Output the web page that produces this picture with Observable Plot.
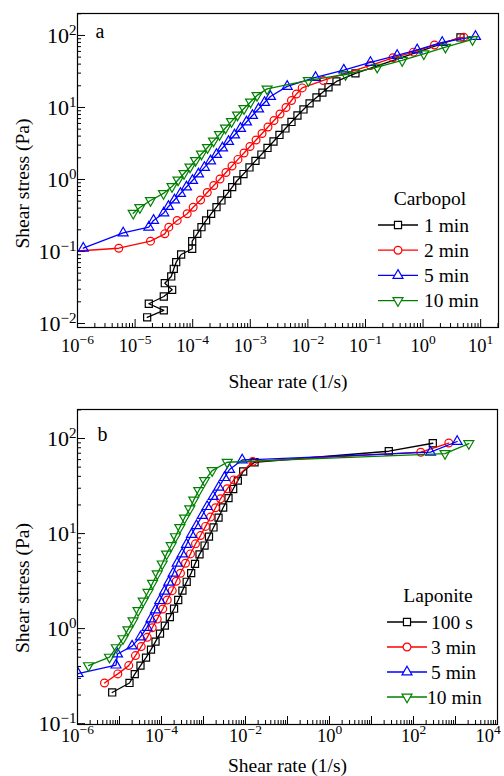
<!DOCTYPE html>
<html>
<head>
<meta charset="utf-8">
<script src="https://cdn.jsdelivr.net/npm/d3@7"></script>
<script src="https://cdn.jsdelivr.net/npm/@observablehq/plot@0.6"></script>
<style>
  html, body { margin: 0; padding: 0; background: #fff; }
  #chart { width: 504px; height: 776px; }
  #chart svg { display: block; }
</style>
</head>
<body>
<div id="chart"></div>
<script>
// ---------- Panel a: Carbopol ----------
const carbNames = ["1 min", "2 min", "5 min", "10 min"];
const carb1x = [1.62e-5, 3.15e-5, 1.73e-5, 3.15e-5, 4.4e-5, 3.28e-5, 4.24e-5, 4.7e-5, 5.17e-5, 6.3e-5, 9.8e-5, 9.8e-5, 1.2e-4, 1.42e-4, 1.71e-4, 2.09e-4, 2.59e-4, 3.16e-4, 3.97e-4, 4.85e-4, 5.93e-4, 7.62e-4, 9.68e-4, 1.23e-3, 1.56e-3, 1.99e-3, 2.53e-3, 3.21e-3, 4.08e-3, 5.19e-3, 6.59e-3, 8.39e-3, 1.07e-2, 1.41e-2, 1.79e-2, 2.28e-2, 3.14e-2, 6.7e-2, 4.46];
const carb1y = [0.0122, 0.0152, 0.0188, 0.0237, 0.0294, 0.0363, 0.045, 0.0575, 0.071, 0.0908, 0.109, 0.139, 0.176, 0.2175, 0.27, 0.334, 0.412, 0.511, 0.632, 0.782, 0.968, 1.19, 1.47, 1.81, 2.22, 2.74, 3.37, 4.15, 5.11, 6.29, 7.74, 9.38, 11.4, 13.8, 16.1, 19.1, 23.0, 29.7, 93.8];
const carb2x = [5e-7, 5.21e-6, 1.85e-5, 3.28e-5, 3.85e-5, 5.38e-5, 8.03e-5, 1.02e-4, 1.37e-4, 1.79e-4, 2.32e-4, 2.98e-4, 3.78e-4, 4.81e-4, 6.11e-4, 7.78e-4, 9.89e-4, 1.26e-3, 1.60e-3, 2.03e-3, 2.58e-3, 3.28e-3, 4.17e-3, 5.19e-3, 6.34e-3, 7.96e-3, 1.85e-2, 0.122, 0.30, 0.681, 1.58, 5.09];
const carb2y = [0.098, 0.111, 0.139, 0.176, 0.2175, 0.27, 0.334, 0.412, 0.519, 0.659, 0.826, 1.016, 1.25, 1.54, 1.90, 2.33, 2.87, 3.54, 4.35, 5.36, 6.59, 8.12, 10.0, 12.5, 15.4, 18.7, 23.7, 38.3, 49.0, 58.6, 73.8, 94.6];
const carb5x = [1.26e-6, 6.21e-6, 1.73e-5, 2.09e-5, 3.15e-5, 3.80e-5, 4.83e-5, 6.14e-5, 7.80e-5, 9.93e-5, 1.26e-4, 1.60e-4, 2.04e-4, 2.59e-4, 3.29e-4, 4.19e-4, 5.32e-4, 6.76e-4, 8.59e-4, 1.09e-3, 1.39e-3, 1.77e-3, 2.24e-3, 4.37e-3, 1.36e-2, 4.2e-2, 0.122, 0.355, 0.79, 2.15, 8.13];
const carb5y = [0.111, 0.181, 0.2175, 0.27, 0.343, 0.422, 0.519, 0.64, 0.787, 0.968, 1.19, 1.47, 1.81, 2.22, 2.74, 3.37, 4.15, 5.11, 6.29, 7.74, 9.53, 11.7, 14.2, 19.6, 26.1, 33.0, 42.2, 52.7, 63.0, 80.0, 96.8];
const carb10x = [9.27e-6, 1.21e-5, 1.85e-5, 3.11e-5, 4.37e-5, 5.56e-5, 7.06e-5, 8.98e-5, 1.12e-4, 1.42e-4, 1.81e-4, 2.30e-4, 2.92e-4, 3.71e-4, 4.72e-4, 6.00e-4, 7.78e-4, 1.01e-3, 1.31e-3, 1.96e-3, 1.02e-2, 4.50e-2, 0.16, 0.434, 1.03, 2.45, 7.21];
const carb10y = [0.340, 0.408, 0.511, 0.64, 0.80, 0.984, 1.21, 1.49, 1.84, 2.26, 2.78, 3.43, 4.22, 5.19, 6.40, 7.87, 9.68, 11.9, 14.7, 18.1, 23.7, 28.7, 36.3, 45.0, 55.7, 68.8, 88.0];
const carbXTicks = [1e-6, 1e-5, 1e-4, 1e-3, 1e-2, 1e-1, 1e0, 1e1];
const carbXLabels = [1e-6, 1e-5, 1e-4, 1e-3, 1e-2, 1e-1, 1e0, 1e1];
const carbYTicks = [1e-2, 1e-1, 1e0, 1e1, 1e2];

// ---------- Panel b: Laponite ----------
const lapNames = ["100 s", "3 min", "5 min", "10 min"];
const lap100x = [6.70e-6, 1.73e-5, 2.31e-5, 3.16e-5, 4.28e-5, 5.62e-5, 7.20e-5, 9.21e-5, 1.20e-4, 1.58e-4, 1.99e-4, 2.50e-4, 3.15e-4, 3.98e-4, 5.09e-4, 6.28e-4, 8.04e-4, 1.06e-3, 1.35e-3, 1.73e-3, 2.28e-3, 2.94e-3, 3.94e-3, 5.09e-3, 6.56e-3, 8.81e-3, 1.64e-2, 25.8, 288];
const lap100y = [0.213, 0.268, 0.332, 0.408, 0.495, 0.601, 0.729, 0.885, 1.076, 1.32, 1.62, 2.00, 2.51, 3.11, 3.84, 4.80, 6.04, 7.48, 9.29, 11.6, 14.7, 18.8, 23.6, 29.4, 36.1, 45.0, 56.3, 73.5, 89.2];
const lap3x = [4.39e-6, 9.12e-6, 1.66e-5, 2.40e-5, 3.29e-5, 4.57e-5, 6.01e-5, 7.91e-5, 1.07e-4, 1.37e-4, 1.80e-4, 2.24e-4, 2.83e-4, 3.73e-4, 4.90e-4, 6.45e-4, 8.49e-4, 1.12e-3, 1.47e-3, 1.93e-3, 2.54e-3, 3.67e-3, 5.26e-3, 1.49e-2, 149, 692];
const lap3y = [0.268, 0.334, 0.408, 0.52, 0.647, 0.809, 1.02, 1.26, 1.61, 2.0, 2.51, 3.15, 3.82, 4.87, 6.11, 7.80, 9.53, 11.9, 14.9, 18.7, 23.2, 29.6, 36.7, 57.3, 71.8, 89.7];
const lap5x = [1.03e-6, 8.26e-6, 8.96e-6, 1.99e-5, 3.16e-5, 4.52e-5, 5.62e-5, 7.20e-5, 9.12e-5, 1.18e-4, 1.49e-4, 1.90e-4, 2.36e-4, 3.11e-4, 3.94e-4, 5.18e-4, 6.81e-4, 9.31e-4, 1.22e-3, 1.70e-3, 2.31e-3, 3.16e-3, 4.16e-3, 8.34e-3, 254, 1096];
const lap5y = [0.336, 0.413, 0.54, 0.655, 0.818, 1.03, 1.26, 1.57, 1.97, 2.47, 3.07, 3.82, 4.87, 6.11, 7.66, 9.76, 12.1, 15.5, 19.2, 24.5, 30.7, 38.8, 47.2, 59.4, 71.8, 93.0];
const lap10x = [1.83e-6, 5.78e-6, 8.39e-6, 1.21e-5, 1.59e-5, 2.10e-5, 2.76e-5, 3.67e-5, 4.77e-5, 6.11e-5, 7.91e-5, 1.04e-4, 1.32e-4, 1.70e-4, 2.15e-4, 2.73e-4, 3.53e-4, 4.72e-4, 5.87e-4, 7.73e-4, 1.06e-3, 1.61e-3, 3.67e-3, 562, 2075];
const lap10y = [0.408, 0.501, 0.631, 0.785, 0.975, 1.21, 1.55, 1.95, 2.41, 3.0, 3.77, 4.80, 6.11, 7.48, 9.29, 11.6, 14.6, 18.2, 22.6, 28.4, 36.1, 46.0, 56.3, 69.5, 88.5];
const lapXTicks = [1e-6, 1e-5, 1e-4, 1e-3, 1e-2, 1e-1, 1e0, 1e1, 1e2, 1e3, 1e4];
const lapXLabels = [1e-6, 1e-4, 1e-2, 1e0, 1e2, 1e4];
const lapYTicks = [1e-1, 1e0, 1e1, 1e2];

// ---------- styling ----------
const FONT = "'Liberation Serif', 'Times New Roman', Times, serif";
const COLORS = ["#000000", "#ff0000", "#0000ff", "#008000"];
const SYMBOLS = ["square", "circle", "triangle", "triangle"];
const ROTATE = [0, 0, 0, 180];
const RADIUS = [4, 3.9, 3.7, 3.7];
const D3SYM = {square: d3.symbolSquare, circle: d3.symbolCircle, triangle: d3.symbolTriangle};

const fmt = d => "10^" + Math.round(Math.log10(d));

function minorOf(majors, lo, hi) {
  const out = [];
  for (const m of majors) for (let k = 2; k <= 9; k++) {
    const v = m * k;
    if (v > lo && v < hi) out.push(v);
  }
  return out;
}

function supify(svg) {
  d3.select(svg).selectAll("text").each(function () {
    const m = /^10\^(-?\d+)$/.exec(this.textContent);
    if (!m) return;
    const isY = this.closest('[aria-label="y-axis tick label"]') !== null;
    const sel = d3.select(this);
    sel.text(null);
    sel.append("tspan").text("10");
    sel.append("tspan").attr("dy", "-8px").attr("font-size", isY ? "15px" : "13.5px")
      .text(m[1].replace("-", "\u2212"));
  });
}

function addLegend(svg, L, names) {
  const g = d3.select(svg).append("g").attr("font-family", FONT).attr("font-size", "19.5px")
    .attr("fill", "black").attr("text-anchor", "start");
  g.append("text").attr("x", L.titleX).attr("y", L.titleY).attr("text-anchor", "middle").text(L.title);
  names.forEach((name, i) => {
    const y = L.y0 + i * L.step;
    g.append("line").attr("x1", L.x1).attr("x2", L.x2).attr("y1", y).attr("y2", y)
      .attr("stroke", COLORS[i]).attr("stroke-width", 1.3);
    g.append("path")
      .attr("d", d3.symbol(D3SYM[SYMBOLS[i]], Math.PI * RADIUS[i] * RADIUS[i])())
      .attr("transform", `translate(${(L.x1 + L.x2) / 2},${y}) rotate(${ROTATE[i]})`)
      .attr("fill", "white").attr("stroke", COLORS[i]).attr("stroke-width", 1.2);
    g.append("text").attr("x", L.textX[i]).attr("y", y).attr("dy", "0.34em")
      .attr("text-anchor", "start").text(name);
  });
}

function panel(cfg) {
  const xMinor = minorOf(cfg.xTicks, cfg.xDomain[0], cfg.xDomain[1]);
  const yMinor = minorOf(cfg.yTicks, cfg.yDomain[0], cfg.yDomain[1]);
  const marks = [
    Plot.axisX(xMinor, {tickSize: 4, dy: -4, fill: "none", label: null}),
    Plot.axisX(cfg.xTicks, {tickSize: 8, dy: -8, fill: "none", label: null}),
    Plot.axisX(cfg.xLabels, {tickSize: 0, tickPadding: cfg.xPad, tickFormat: fmt, fontSize: 18.5, label: null}),
    Plot.axisY(yMinor, {tickSize: 4, dx: 4, fill: "none", label: null}),
    Plot.axisY(cfg.yTicks, {tickSize: 8, dx: 8, fill: "none", label: null}),
    Plot.axisY(cfg.yTicks, {tickSize: 0, tickPadding: 1, tickFormat: fmt, fontSize: 22, label: null})
  ];
  cfg.series.forEach((s, i) => {
    const rows = s.x.map((x, j) => ({x, y: s.y[j]}));
    marks.push(Plot.line(rows, {x: "x", y: "y", stroke: COLORS[i], strokeWidth: 1.3, clip: true}));
    marks.push(Plot.dot(rows, {x: "x", y: "y", stroke: COLORS[i], fill: "none", strokeWidth: 1.2,
      symbol: SYMBOLS[i], r: RADIUS[i], rotate: ROTATE[i], clip: true}));
  });
  marks.push(Plot.frame({stroke: "black", strokeWidth: 1.2}));
  marks.push(Plot.text([cfg.letter], {frameAnchor: "top-left", textAnchor: "start", lineAnchor: "top",
    dx: cfg.letterDx, dy: cfg.letterDy, fontSize: 20}));
  marks.push(Plot.text(["Shear rate (1/s)"], {frameAnchor: "bottom", textAnchor: "middle", lineAnchor: "middle",
    dy: cfg.xTitleDy, fontSize: 19.5}));
  marks.push(Plot.text(["Shear stress (Pa)"], {frameAnchor: "left", textAnchor: "middle", lineAnchor: "middle",
    rotate: -90, dx: -55, dy: cfg.yTitleDy, fontSize: 19.5}));

  const svg = Plot.plot({
    width: 504, height: cfg.height,
    marginTop: cfg.mt, marginBottom: cfg.mb, marginLeft: 77, marginRight: cfg.mr,
    style: {fontFamily: FONT, fontSize: "19.5px", color: "black", background: "white", overflow: "visible"},
    x: {type: "log", domain: cfg.xDomain},
    y: {type: "log", domain: cfg.yDomain},
    marks
  });
  supify(svg);
  addLegend(svg, cfg.legend, cfg.series.map(s => s.name));
  return svg;
}

// keep tick labels inside the page: shift any label that would run past the right edge
function fitLabels(svg, maxRight) {
  const box = svg.getBoundingClientRect();
  d3.select(svg).selectAll('[aria-label="x-axis tick label"] text').each(function () {
    const r = this.getBoundingClientRect();
    const over = r.right - box.left - maxRight;
    if (over > 0) d3.select(this).attr("dx", -over);
  });
}

const chart = document.getElementById("chart");
const svgA = panel({
  height: 390, mt: 13, mb: 63, mr: 6,
  xDomain: [1e-6, 20.4], yDomain: [0.0088, 201.8],
  xTicks: carbXTicks, xLabels: carbXLabels, yTicks: carbYTicks, xPad: 11,
  letter: "a", letterDx: 18, letterDy: 10, xTitleDy: 54, yTitleDy: 13,
  series: [
    {name: carbNames[0], x: carb1x, y: carb1y},
    {name: carbNames[1], x: carb2x, y: carb2y},
    {name: carbNames[2], x: carb5x, y: carb5y},
    {name: carbNames[3], x: carb10x, y: carb10y}
  ],
  legend: {title: "Carbopol", titleX: 430, titleY: 205, y0: 225, step: 25.2, x1: 378, x2: 418, textX: [424, 424, 424, 424]}
});
const svgB = panel({
  height: 386, mt: 19, mb: 52, mr: 7,
  xDomain: [1e-6, 1e4], yDomain: [0.098, 202],
  xTicks: lapXTicks, xLabels: lapXLabels, yTicks: lapYTicks, xPad: 4.5,
  letter: "b", letterDx: 20, letterDy: 17, xTitleDy: 41, yTitleDy: 21,
  series: [
    {name: lapNames[0], x: lap100x, y: lap100y},
    {name: lapNames[1], x: lap3x, y: lap3y},
    {name: lapNames[2], x: lap5x, y: lap5y},
    {name: lapNames[3], x: lap10x, y: lap10y}
  ],
  legend: {title: "Laponite", titleX: 438, titleY: 211.7, y0: 232, step: 25, x1: 387, x2: 427, textX: [431, 431, 431, 427]}
});
chart.append(svgA, svgB);
fitLabels(svgA, 501);
fitLabels(svgB, 501);
</script>
</body>
</html>
